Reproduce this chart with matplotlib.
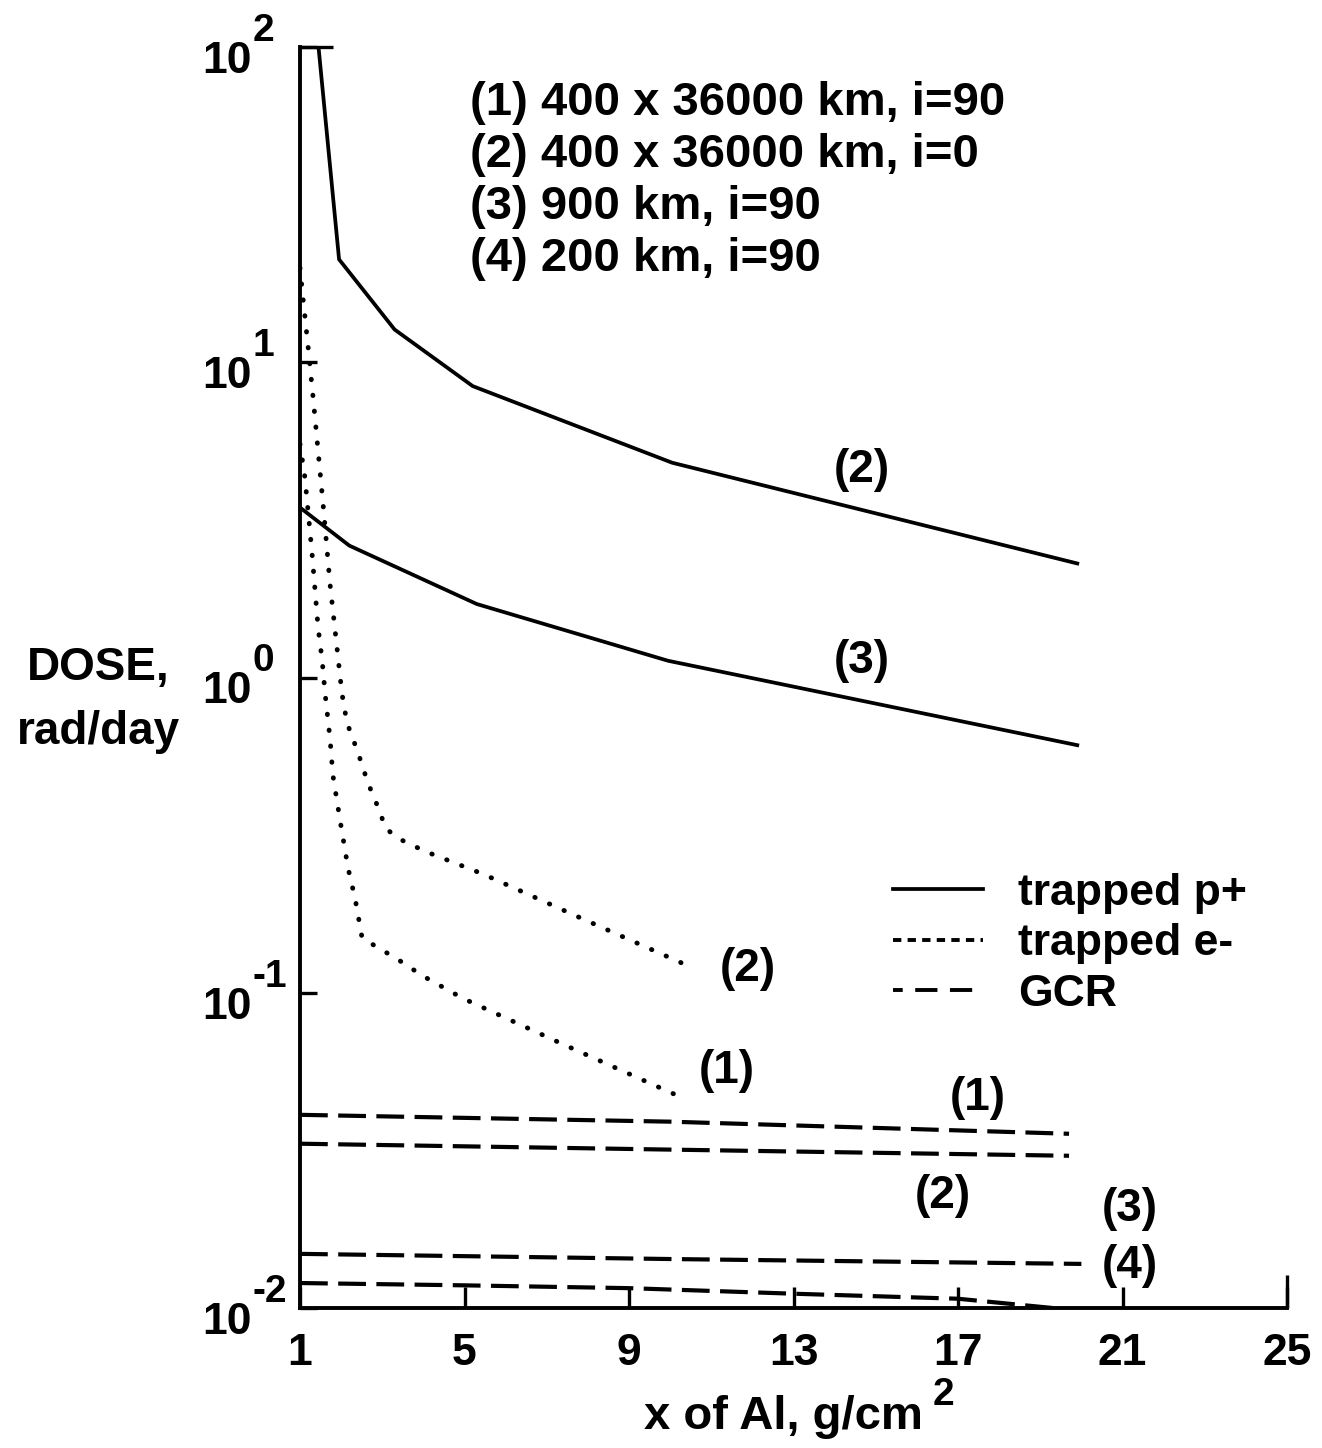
import matplotlib
matplotlib.use('Agg')
import matplotlib.pyplot as plt
from matplotlib.ticker import FixedLocator, NullFormatter
from matplotlib.lines import Line2D

plt.rcParams['font.family'] = ['Liberation Sans', 'DejaVu Sans']
plt.rcParams['font.weight'] = 'bold'
plt.rcParams['axes.labelweight'] = 'bold'
plt.rcParams['lines.scale_dashes'] = False

# ---------------- data ----------------
# trapped protons
p2_x = [1.45, 1.95, 3.3, 5.2, 10.05, 19.9]
p2_y = [100.0, 21.2, 12.7, 8.4, 4.8, 2.3]
p3_x = [1.0, 2.2, 5.3, 9.95, 19.9]
p3_y = [3.46, 2.62, 1.71, 1.13, 0.61]
# trapped electrons
e2_x = [1.0, 1.07, 1.2, 1.32, 1.56, 1.73, 2.02, 2.14, 2.41, 2.65, 2.95, 3.07, 3.36, 4.04, 5.45, 7.81, 10.36]
e2_y = [19.9, 16.1, 11.1, 7.7, 3.56, 1.98, 0.89, 0.72, 0.578, 0.464, 0.373, 0.334, 0.31, 0.281, 0.238, 0.173, 0.123]
e1_x = [1.0, 1.12, 1.29, 1.44, 1.54, 1.61, 1.73, 1.80, 1.97, 2.17, 2.34, 2.51, 3.36, 3.99, 4.96, 7.40, 10.24]
e1_y = [5.5, 4.3, 2.5, 1.44, 1.13, 0.89, 0.64, 0.49, 0.355, 0.248, 0.199, 0.149, 0.128, 0.113, 0.096, 0.0686, 0.0468]
# GCR
g1_x = [1.0, 10.0, 19.7]
g1_y = [0.0410, 0.0390, 0.0357]
g2_x = [1.0, 10.0, 19.7]
g2_y = [0.0332, 0.0318, 0.0304]
g3_x = [1.0, 10.0, 20.0]
g3_y = [0.01485, 0.0143, 0.0138]
g4_x = [1.0, 5.0, 9.0, 13.0, 17.0, 19.3]
g4_y = [0.0120, 0.0118, 0.01156, 0.0111, 0.0107, 0.0100]

x_ticks = [1, 5, 9, 13, 17, 21, 25]
x_tick_labels = ['1', '5', '9', '13', '17', '21', '25']
y_tick_values = [1e-2, 1e-1, 1e0, 1e1, 1e2]
y_tick_exponents = ['-2', '-1', '0', '1', '2']

legend_labels = ['trapped p+', 'trapped e-', 'GCR']
title_lines = ['(1) 400 x 36000 km, i=90', '(2) 400 x 36000 km, i=0',
               '(3) 900 km, i=90', '(4) 200 km, i=90']
curve_labels = ['(2)', '(3)', '(2)', '(1)', '(1)', '(2)', '(3)', '(4)']
curve_label_x = [14.67, 14.67, 11.89, 11.38, 17.49, 16.64, 21.18, 21.18]
curve_label_y = [4.54, 1.13, 0.119, 0.0565, 0.0464, 0.0227, 0.0206, 0.0136]

# ---------------- styles ----------------
solid = dict(color='black', lw=2.7, ls='-', solid_joinstyle='miter')
dotted = dict(color='black', lw=3.5, ls=(0, (0.3, 11.2)), dash_capstyle='round')
dashed = dict(color='black', lw=3.0, ls=(0, (20.0, 7.5)), dash_capstyle='butt')

FS = 33
EXP_FS = 28

fig = plt.figure(figsize=(13.22, 14.48), dpi=100)
ax = fig.add_axes([300/1322, 1 - 1308/1448, 987/1322, 1261/1448])
ax.set_xlim(1, 25)
ax.set_yscale('log')
ax.set_ylim(0.01, 100)

ax.plot(p2_x, p2_y, **solid)
ax.plot(p3_x, p3_y, **solid)
ax.plot(e2_x, e2_y, **dotted)
ax.plot(e1_x, e1_y, **dotted)
for gx, gy in [(g1_x, g1_y), (g2_x, g2_y), (g3_x, g3_y), (g4_x, g4_y)]:
    ax.plot(gx, gy, **dashed)

# spines
for s in ['top', 'right']:
    ax.spines[s].set_visible(False)
for s in ['left', 'bottom']:
    ax.spines[s].set_linewidth(2.8)
    ax.spines[s].set_capstyle('projecting')

# x ticks
ax.xaxis.remove_overlapping_locs = False
ax.yaxis.remove_overlapping_locs = False
ax.set_xticks(x_ticks)
ax.set_xticklabels(x_tick_labels)
ax.tick_params(axis='x', which='major', direction='in', length=15, width=2.4,
               pad=18, labelsize=32)
ax.xaxis.set_minor_locator(FixedLocator([x_ticks[-1]]))
ax.tick_params(axis='x', which='minor', direction='in', length=24, width=2.4)

# y ticks (labels drawn manually as 10 + exponent)
ax.yaxis.set_major_locator(FixedLocator(y_tick_values))
ax.yaxis.set_major_formatter(NullFormatter())
ax.yaxis.set_minor_locator(FixedLocator([y_tick_values[-1]]))
ax.yaxis.set_minor_formatter(NullFormatter())
ax.tick_params(axis='y', which='major', direction='in', length=12, width=2.4)
ax.tick_params(axis='y', which='minor', direction='in', length=24, width=2.4)

for val, ex in zip(y_tick_values, y_tick_exponents):
    base = ax.annotate('10', xy=(0, val), xycoords=ax.get_yaxis_transform(),
                       xytext=(-34.6, -18.7), textcoords='offset points',
                       ha='right', va='baseline', fontsize=32, fontweight='bold')
    ax.annotate(ex, xy=(1, 1), xycoords=base, xytext=(0.5, 0),
                textcoords='offset points', ha='left', va='baseline',
                fontsize=EXP_FS, fontweight='bold')

# axis labels
ax.set_ylabel('DOSE,\nrad/day', rotation=0, fontsize=FS, fontweight='bold',
              ha='center', va='center', multialignment='center', linespacing=1.58)
ax.yaxis.set_label_coords(-0.2047, 0.482)
ax.set_xlabel('x of Al, g/cm', fontsize=34, fontweight='bold')
ax.xaxis.set_label_coords(0.490, -0.069)
ax.annotate('2', xy=(1, 1), xycoords=ax.xaxis.label, xytext=(7, -7.2),
            textcoords='offset points', ha='left', va='baseline',
            fontsize=EXP_FS, fontweight='bold')

# title block
title_base_px = [115, 167, 219, 271]
for line, py in zip(title_lines, title_base_px):
    ax.text(0.172, (1308 - py) / 1261, line, transform=ax.transAxes,
            fontsize=34, ha='left', va='baseline')

# curve labels
for t, x, y in zip(curve_labels, curve_label_x, curve_label_y):
    ax.text(x, y, t, fontsize=FS, ha='center', va='center')

# legend
handles = [Line2D([], [], **solid),
           Line2D([], [], color='black', lw=2.8, ls=(0, (6.0, 4.5))),
           Line2D([], [], color='black', lw=2.8, ls=(9, (16.0, 9.0)))]
ax.legend(handles, legend_labels, loc='upper left', bbox_to_anchor=(0.6008, 0.345),
          frameon=False, fontsize=32, handlelength=2.03, handletextpad=0.79,
          labelspacing=0.21, borderpad=0, borderaxespad=0)

fig.savefig('out.png', dpi=100)
